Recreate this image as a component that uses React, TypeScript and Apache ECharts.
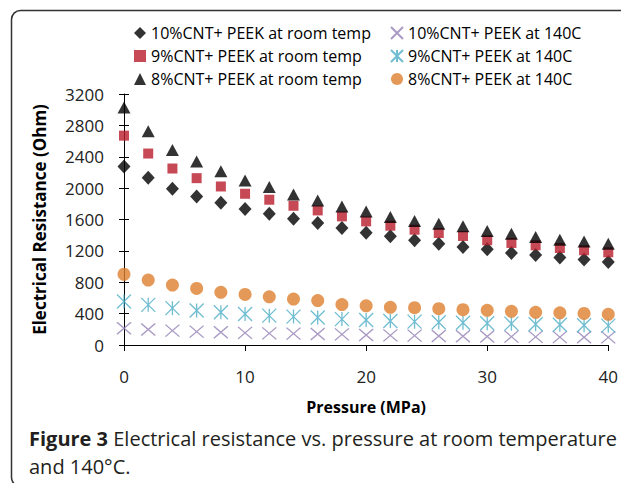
import React, { useEffect, useRef } from "react";
import * as echarts from "echarts";

const pressure = [0, 2, 4, 6, 8, 10, 12, 14, 16, 18, 20, 22, 24, 26, 28, 30, 32, 34, 36, 38, 40];

const room10 = [2275, 2131, 1991, 1894, 1813, 1733, 1674, 1610, 1555, 1491, 1432, 1386, 1335, 1292, 1250, 1220, 1174, 1148, 1114, 1089, 1059];
const room9 = [2669, 2441, 2250, 2127, 2021, 1928, 1852, 1775, 1716, 1640, 1576, 1521, 1470, 1428, 1390, 1335, 1301, 1271, 1237, 1208, 1182];
const room8 = [3029, 2724, 2487, 2339, 2216, 2097, 2013, 1919, 1843, 1767, 1703, 1631, 1580, 1547, 1513, 1453, 1419, 1377, 1343, 1318, 1292];
const hot10 = [213, 198, 183, 170, 162, 155, 149, 145, 140, 136, 128, 123, 119, 115, 111, 109, 106, 103, 101, 99, 97];
const hot9 = [555, 512, 470, 440, 417, 395, 374, 362, 350, 330, 319, 306, 298, 289, 284, 277, 272, 264, 259, 252, 247];
const hot8 = [902, 828, 764, 721, 671, 645, 614, 586, 566, 515, 500, 480, 476, 463, 450, 442, 430, 417, 410, 403, 391];

const names = {
  room10: "10%CNT+ PEEK at room temp",
  room9: "9%CNT+ PEEK at room temp",
  room8: "8%CNT+ PEEK at room temp",
  hot10: "10%CNT+ PEEK at 140C",
  hot9: "9%CNT+ PEEK at 140C",
  hot8: "8%CNT+ PEEK at 140C",
};

const xTitle = "Pressure (MPa)";
const yTitle = "Electrical Resistance (Ohm)";
const captionBold = "Figure 3";
const captionLine1 = " Electrical resistance vs. pressure at room temperature";
const captionLine2 = "and 140°C";

const X_PATH = "path://M0,0L10,10M10,0L0,10";
const STAR_PATH = "path://M0,0L10,10M10,0L0,10M5,0L5,10";

const FONT = "'Open Sans', 'DejaVu Sans', sans-serif";

function pts(vals: number[]) {
  return pressure.map((p, i) => [p, vals[i]]);
}

export default function App() {
  const ref = useRef<HTMLDivElement>(null);
  useEffect(() => {
    document.body.style.margin = "0";
    if (!ref.current) return;
    const chart = echarts.init(ref.current, null, { renderer: "svg" });
    const axisColor = "#000";
    const legendCommon = {
      orient: "vertical",
      top: 25,
      itemWidth: 12,
      itemHeight: 12,
      itemGap: 7,
      padding: 0,
      textStyle: { fontSize: 16, lineHeight: 16, color: "#000", fontFamily: FONT },
    };
    chart.setOption({
      animation: false,
      textStyle: { fontFamily: FONT },
      grid: { left: 124, right: 9, top: 94, bottom: 138, containLabel: false },
      legend: [
        { ...legendCommon, left: 134, data: [names.room10, names.room9, names.room8] },
        { ...legendCommon, left: 390, data: [names.hot10, names.hot9, names.hot8] },
      ],
      xAxis: {
        type: "value",
        min: 0,
        max: 40,
        interval: 10,
        name: xTitle,
        nameLocation: "middle",
        nameGap: 54,
        nameTextStyle: { fontWeight: "bold", fontSize: 16, color: "#000", fontFamily: FONT },
        axisLine: { show: true, onZero: false, lineStyle: { color: axisColor, width: 1 } },
        axisTick: { show: true, inside: false, length: 6, lineStyle: { color: axisColor } },
        axisLabel: { fontSize: 17, color: "#222", margin: 23, fontFamily: FONT },
        splitLine: { show: false },
      },
      yAxis: [
        {
          type: "value",
          min: 0,
          max: 3200,
          interval: 400,
          name: yTitle,
          nameLocation: "middle",
          nameGap: 76,
          nameTextStyle: { fontWeight: "bold", fontSize: 17, color: "#000", fontFamily: FONT },
          axisLine: { show: true, onZero: false, lineStyle: { color: axisColor, width: 1 } },
          axisTick: { show: true, inside: false, length: 5, lineStyle: { color: axisColor } },
          axisLabel: {
            fontSize: 17,
            color: "#222",
            margin: 20,
            fontFamily: FONT,
            formatter: (v: number) => String(v),
          },
          splitLine: { show: false },
        },
        {
          type: "value",
          min: 0,
          max: 3200,
          interval: 400,
          position: "left",
          axisLine: { show: false },
          axisTick: { show: true, inside: true, length: 5, lineStyle: { color: axisColor } },
          axisLabel: { show: false },
          splitLine: { show: false },
        },
      ],
      series: [
        {
          name: names.room10,
          type: "scatter",
          symbol: "diamond",
          symbolSize: [13, 14],
          itemStyle: { color: "#000" },
          data: pts(room10),
        },
        {
          name: names.hot10,
          type: "scatter",
          symbol: X_PATH,
          symbolSize: [14, 12],
          itemStyle: { color: "rgba(0,0,0,0)", borderColor: "#9481B5", borderWidth: 1.3 },
          data: pts(hot10),
        },
        {
          name: names.room9,
          type: "scatter",
          symbol: "rect",
          symbolSize: 10,
          itemStyle: { color: "#B81C2A" },
          data: pts(room9),
        },
        {
          name: names.hot9,
          type: "scatter",
          symbol: STAR_PATH,
          symbolSize: [14, 14],
          itemStyle: { color: "rgba(0,0,0,0)", borderColor: "#4BACC6", borderWidth: 1.3 },
          data: pts(hot9),
        },
        {
          name: names.room8,
          type: "scatter",
          symbol: "triangle",
          symbolSize: [13, 12],
          itemStyle: { color: "#000" },
          data: pts(room8),
        },
        {
          name: names.hot8,
          type: "scatter",
          symbol: "circle",
          symbolSize: 13,
          itemStyle: { color: "#DE7F2E" },
          data: pts(hot8),
        },
      ],
      graphic: [
        {
          type: "rect",
          silent: true,
          z: -1,
          shape: { x: 11.5, y: 10.5, width: 700, height: 476, r: 9 },
          style: { fill: "none", stroke: "#333", lineWidth: 1.5 },
        },
        {
          type: "text",
          x: 29,
          y: 438,
          style: {
            text: "{b|" + captionBold + "}" + captionLine1,
            verticalAlign: "middle",
            fontSize: 20,
            fontFamily: FONT,
            fill: "#231F20",
            rich: {
              b: { fontWeight: "bold", fontSize: 20, fontFamily: FONT, fill: "#231F20" },
            },
          },
        },
        {
          type: "text",
          x: 29,
          y: 466,
          style: {
            text: captionLine2 + ".",
            verticalAlign: "middle",
            fontSize: 20,
            fontFamily: FONT,
            fill: "#231F20",
          },
        },
      ],
    });
    return () => chart.dispose();
  }, []);
  return <div ref={ref} style={{ width: 621, height: 483 }} />;
}
